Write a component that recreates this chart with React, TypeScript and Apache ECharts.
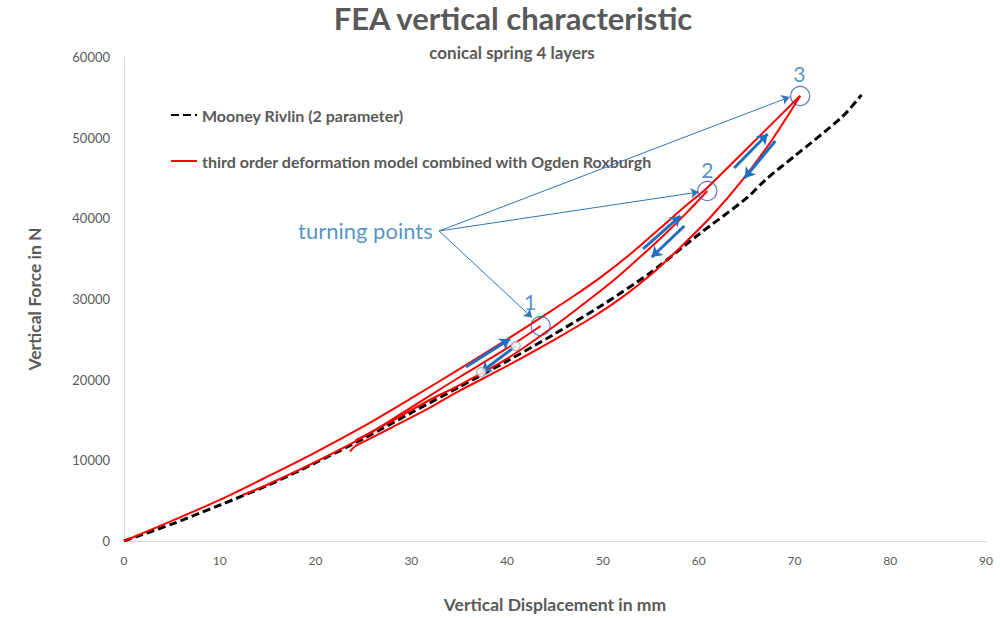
import { useEffect, useRef } from "react";
import * as echarts from "echarts";

// displacement in mm, force in N
const mooneyRivlin: [number, number][] = [
  [0, 0], [5, 2100], [10, 4450], [15, 6900], [20, 9700], [25, 12700], [30, 15900],
  [35, 19100], [40, 22300], [45, 25700], [50, 29300], [55, 33300], [60, 38000],
  [65, 42500], [67, 44800], [70, 47700], [75, 52600], [77, 55300],
];

// third order deformation + Ogden Roxburgh: loading and three unloading branches
const ogdenLoading: [number, number][] = [
  [0, 0], [5, 2500], [10, 5100], [15, 8000], [20, 11000], [25, 14200], [30, 17700],
  [35, 21300], [40, 25000], [43.4, 27600], [47, 30400], [50, 32900], [53, 35700],
  [56, 38800], [58.5, 41400], [60.9, 43800], [65, 48600], [70.6, 55200],
];
const ogdenUnload1: [number, number][] = [
  [43.5, 26650], [40, 23900], [35, 20300], [31.9, 18000], [25, 12900], [20, 9800],
  [15, 7000], [12.4, 5700],
];
const ogdenUnload2: [number, number][] = [
  [60.9, 43390], [58.5, 40400], [56, 37500], [53.5, 34800], [51, 32200], [48, 29400],
  [45, 26700], [40, 22600], [35, 19300], [31.9, 17480], [28, 14900], [25, 13000],
  [24.2, 12500],
];
const ogdenUnload3: [number, number][] = [
  [70.6, 55160], [67.7, 49800], [64.6, 44800], [61.2, 40100], [58, 36300], [55, 33000],
  [52, 30200], [49, 27800], [45, 25000], [40, 21700], [35, 18600], [31.9, 16500],
  [28, 14100], [25, 12300], [24.2, 11800], [23.6, 11100],
];

const turningPoints: [number, number][] = [[43.5, 26650], [60.9, 43390], [70.6, 55160]];
const turningNumbers = ["1", "2", "3"];
const turningNumberPos: [number, number][] = [[42.4, 29750], [60.9, 46000], [70.5, 58000]];
const turningText = "turning points";
const turningTextPos: [number, number] = [25.2, 38430];
const pointerStart: [number, number] = [32.9, 38430];
const pointerEnds: [number, number][] = [[42.6, 27700], [60.0, 43260], [69.5, 55040]];

// direction arrows along the curves: [from, to]
const directionArrows: [[number, number], [number, number]][] = [
  [[35.7, 21570], [40.3, 25040]],
  [[40.9, 24170], [37.3, 20950]],
  [[54.2, 36200], [58.1, 40290]],
  [[58.5, 39050], [55.1, 35200]],
  [[63.7, 46240], [67.2, 50450]],
  [[68.0, 49580], [64.8, 45000]],
];
const arrowEndDots: [number, number][] = [[40.9, 24170], [37.3, 20950]];

const MR_NAME = "Mooney Rivlin (2 parameter)";
const OR_NAME = "third order deformation model combined with Ogden Roxburgh";
const GREY = "#595959";
const BLUE = "#2e75b6";

export default function App() {
  const chartRef = useRef<HTMLDivElement | null>(null);

  useEffect(() => {
    if (!chartRef.current) return;
    const chart = echarts.init(chartRef.current, undefined, { renderer: "svg" });

    const redLine = (data: [number, number][]) => ({
      name: OR_NAME,
      type: "line" as const,
      data,
      smooth: 0.3,
      symbol: "none",
      lineStyle: { color: "#ff0000", width: 2 },
      itemStyle: { color: "#ff0000" },
      z: 3,
    });

    const option: echarts.EChartsOption = {
      animation: false,
      textStyle: { fontFamily: "Lato" },
      title: [
        {
          text: "FEA vertical characteristic",
          left: 508,
          top: -3,
          textAlign: "center",
          textStyle: { color: GREY, fontSize: 31, fontWeight: "bold", fontFamily: "Lato" },
        },
        {
          text: "conical spring 4 layers",
          left: 507,
          top: 39,
          textAlign: "center",
          textStyle: { color: GREY, fontSize: 17, fontWeight: "bold", fontFamily: "Lato" },
        },
      ],
      legend: {
        orient: "vertical",
        left: 165,
        top: 102,
        itemWidth: 26,
        itemHeight: 14,
        itemGap: 30,
        itemStyle: { opacity: 0 },
        data: [MR_NAME, OR_NAME],
        textStyle: { color: GREY, fontSize: 16, fontWeight: "bold", fontFamily: "Lato" },
      },
      grid: { left: 124, right: 14, top: 57, bottom: 77 },
      xAxis: {
        type: "value",
        min: 0,
        max: 90,
        interval: 10,
        name: "Vertical Displacement in mm",
        nameLocation: "middle",
        nameGap: 54,
        nameTextStyle: { color: GREY, fontSize: 17.5, fontWeight: "bold", fontFamily: "Lato" },
        axisLine: { show: true, lineStyle: { color: "#d9d9d9", width: 1 } },
        axisTick: { show: false },
        splitLine: { show: false },
        axisLabel: { color: GREY, fontSize: 12, margin: 13 },
      },
      yAxis: {
        type: "value",
        min: 0,
        max: 60000,
        interval: 10000,
        name: "Vertical Force in N",
        nameLocation: "middle",
        nameGap: 81,
        nameTextStyle: { color: GREY, fontSize: 17.5, fontWeight: "bold", fontFamily: "Lato" },
        axisLine: { show: true, lineStyle: { color: "#d9d9d9", width: 1 } },
        axisTick: { show: false },
        splitLine: { show: false },
        axisLabel: { color: GREY, fontSize: 13, margin: 14, formatter: (v: number) => String(v) },
      },
      series: [
        {
          name: MR_NAME,
          type: "line",
          data: mooneyRivlin,
          smooth: 0.3,
          symbol: "none",
          lineStyle: { color: "#000000", width: 3, type: [8, 4] },
          itemStyle: { color: "#000000" },
          z: 2,
        },
        redLine(ogdenLoading),
        redLine(ogdenUnload1),
        redLine(ogdenUnload2),
        redLine(ogdenUnload3),
        {
          type: "lines",
          coordinateSystem: "cartesian2d",
          silent: true,
          symbol: ["none", "arrow"],
          symbolSize: 8,
          lineStyle: { color: BLUE, width: 1, opacity: 1, curveness: 0 },
          data: pointerEnds.map((end) => ({ coords: [pointerStart, end] })),
          z: 5,
        },
        {
          type: "lines",
          coordinateSystem: "cartesian2d",
          silent: true,
          symbol: ["none", "arrow"],
          symbolSize: 10,
          lineStyle: { color: "#1f6fc0", width: 3, opacity: 1, curveness: 0 },
          data: directionArrows.map(([a, b]) => ({ coords: [a, b] })),
          z: 6,
        },
        {
          type: "scatter",
          silent: true,
          data: arrowEndDots,
          symbol: "circle",
          symbolSize: 9,
          itemStyle: { color: "#ffffff", borderColor: "#a6a6a6", borderWidth: 1.5 },
          z: 7,
        },
        {
          type: "scatter",
          silent: true,
          data: turningPoints,
          symbol: "circle",
          symbolSize: 19,
          itemStyle: { color: "rgba(0,0,0,0)", borderColor: "#3f51a3", borderWidth: 1.2 },
          z: 7,
        },
        {
          type: "scatter",
          silent: true,
          data: turningNumberPos.map((p, i) => ({ value: p, name: turningNumbers[i] })),
          symbolSize: 0,
          itemStyle: { color: "rgba(0,0,0,0)" },
          label: {
            show: true,
            position: "inside",
            formatter: "{b}",
            color: BLUE,
            fontSize: 21,
            fontFamily: "Lato",
          },
          z: 8,
        },
        {
          type: "scatter",
          silent: true,
          data: [{ value: turningTextPos, name: turningText }],
          symbolSize: 0,
          itemStyle: { color: "rgba(0,0,0,0)" },
          label: {
            show: true,
            position: "inside",
            formatter: "{b}",
            color: BLUE,
            fontSize: 22,
            fontFamily: "Lato",
          },
          z: 8,
        },
      ],
    };

    chart.setOption(option);
    return () => {
      chart.dispose();
    };
  }, []);

  return (
    <div
      ref={chartRef}
      style={{ position: "absolute", left: 0, top: 0, width: "1000px", height: "618px", background: "#ffffff" }}
    />
  );
}
